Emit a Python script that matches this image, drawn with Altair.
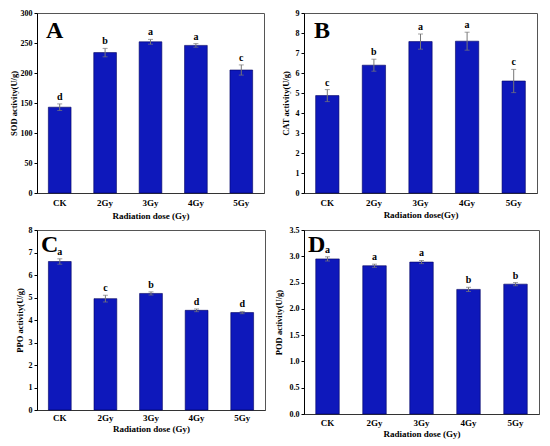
import altair as alt
import pandas as pd

doses = ["CK", "2Gy", "3Gy", "4Gy", "5Gy"]

sod = [143, 234, 252, 246, 205]
sod_err = [5.5, 7, 4, 3, 8.5]
sod_sig = ["d", "b", "a", "a", "c"]

cat = [4.87, 6.39, 7.57, 7.59, 5.6]
cat_err = [0.3, 0.3, 0.38, 0.45, 0.58]
cat_sig = ["c", "b", "a", "a", "c"]

ppo = [6.6, 4.95, 5.18, 4.43, 4.33]
ppo_err = [0.12, 0.15, 0.07, 0.06, 0.05]
ppo_sig = ["a", "c", "b", "d", "d"]

pod = [2.95, 2.82, 2.89, 2.37, 2.47]
pod_err = [0.04, 0.03, 0.03, 0.04, 0.03]
pod_sig = ["a", "a", "a", "b", "b"]

SERIF = "Liberation Serif"
BAR = "#0e18bb"
ERR = "#777777"


def panel(vals, errs, sigs, ymax, ticks, fmt, ytitle, xtitle, letter,
          w, h, lx, ly, tp_y, lp_x, tp_x):
    df = pd.DataFrame({"dose": doses, "v": vals, "e": errs, "s": sigs})
    df["lo"] = df["v"] - df["e"]
    df["hi"] = df["v"] + df["e"]
    base = alt.Chart(df)
    xscale = alt.Scale(paddingInner=0.5, paddingOuter=0.25)
    xaxis = alt.Axis(labelAngle=0, ticks=False, labelPadding=lp_x,
                     titlePadding=tp_x, labelFontSize=9, titleFontSize=9,
                     domainColor="#333333")
    yscale = alt.Scale(domain=[0, ymax], nice=False)
    yaxis = alt.Axis(values=ticks, format=fmt, tickSize=3, labelPadding=2,
                     titlePadding=tp_y, labelFontSize=8, titleFontSize=8.5,
                     grid=False, labelOverlap=False)

    def X():
        return alt.X("dose:N", sort=doses, title=xtitle, scale=xscale,
                     axis=xaxis)

    def Y(f):
        return alt.Y(f, title=ytitle, scale=yscale, axis=yaxis)

    bars = base.mark_bar(color=BAR, stroke="#000060", strokeWidth=0.6).encode(
        x=X(), y=Y("v:Q"))
    rule = base.mark_rule(color=ERR, strokeWidth=1).encode(
        x=X(), y=Y("lo:Q"), y2="hi:Q")
    cap_hi = base.mark_tick(color=ERR, size=5, thickness=1).encode(
        x=X(), y=Y("hi:Q"))
    cap_lo = base.mark_tick(color=ERR, size=5, thickness=1).encode(
        x=X(), y=Y("lo:Q"))
    txt = base.mark_text(baseline="bottom", dy=-2, fontSize=10, font=SERIF,
                         fontWeight="bold", color="black").encode(
        x=X(), y=Y("hi:Q"), text="s:N")
    lab = alt.Chart(pd.DataFrame({"t": [letter]})).mark_text(
        align="left", baseline="alphabetic", fontSize=24, font=SERIF,
        fontWeight="bold", color="black").encode(
        x=alt.value(lx), y=alt.value(ly), text="t:N")
    return alt.layer(bars, rule, cap_hi, cap_lo, txt, lab).properties(
        width=w, height=h)


A = panel(sod, sod_err, sod_sig, 300, [0, 50, 100, 150, 200, 250, 300], "d",
          "SOD activity(U/g)", "Radiation dose (Gy)", "A",
          227, 180, 9, 25, 2, 5, 4)
B = panel(cat, cat_err, cat_sig, 9, list(range(10)), "d",
          "CAT activity(U/g)", "Radiation dose(Gy)", "B",
          233, 180, 10, 25, 5, 5, 3)
C = panel(ppo, ppo_err, ppo_sig, 8, list(range(9)), "d",
          "PPO activity(U/g)", "Radiation dose (Gy)", "C",
          228, 180, 4, 22, 4, 3, 2)
D = panel(pod, pod_err, pod_sig, 3.5, [0, 0.5, 1, 1.5, 2, 2.5, 3, 3.5], ".1f",
          "POD activity(U/g)", "Radiation dose (Gy)", "D",
          235, 184, 4, 22, 6, 4, 2)

chart = alt.concat(A, B, C, D, columns=2, bounds="flush", align="each",
                   spacing={"row": 37, "column": 39}).properties(
    padding={"left": 0, "top": 0, "right": 0, "bottom": 0}
).configure(font=SERIF).configure_view(
    stroke="#555555", strokeWidth=1
).configure_axis(
    labelFont=SERIF, titleFont=SERIF, labelFontWeight="bold",
    titleFontWeight="bold", labelColor="black", titleColor="black",
    domainColor="black", tickColor="black", domainWidth=1, tickWidth=1
)

chart.save("out.html", embed_options={"renderer": "svg", "actions": False})
